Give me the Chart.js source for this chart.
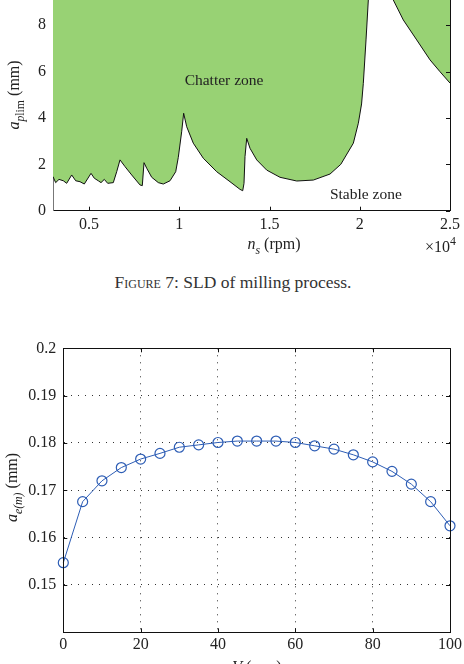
<!DOCTYPE html>
<html><head><meta charset="utf-8">
<script src="https://cdn.jsdelivr.net/npm/chart.js@4.4.1/dist/chart.umd.min.js"></script>
<style>
html,body{margin:0;padding:0;background:#fff;}
body{width:464px;height:664px;overflow:hidden;position:relative;}
.w{position:absolute;left:0;}
#c1w{top:-40px;width:464px;height:300px;}
#c2w{top:320px;width:464px;height:364px;}
#cap{position:absolute;left:0;width:466px;top:273.5px;text-align:center;font-family:"Liberation Serif",serif;font-size:17.5px;line-height:17.5px;color:#333;}
.sc{font-variant:small-caps;}
</style></head><body>
<div class="w" id="c1w"><canvas id="c1" width="464" height="300"></canvas></div>
<div id="cap"><span class="sc">Figure</span> 7: SLD of milling process.</div>
<div class="w" id="c2w"><canvas id="c2" width="464" height="364"></canvas></div>
<script>
// ---- Figure 7: stability lobe diagram ----
const sldRpm = [3000,3148,3333,3573,3758,4036,4258,4496,4735,5106,5289,5511,5660,5843,6031,6342,6530,6713,6990,7361,7821,7949,8043,8193,8470,8836,9113,9484,9800,9944,10130,10240,10409,10775,11330,12072,12809,13363,13513,13585,13640,13735,13917,14289,14843,15580,16505,17426,18351,18950,19643,19920,20100,20197,20346,20474,20520,20600,21500,21650,21859,22413,23156,23893,24447,25000];
const sldA = [1.47,1.21,1.35,1.29,1.18,1.54,1.29,1.25,1.15,1.61,1.40,1.29,1.21,1.35,1.18,1.21,1.68,2.19,1.90,1.54,1.11,1.08,2.07,1.83,1.44,1.21,1.15,1.29,1.68,2.30,3.40,4.20,3.62,2.91,2.26,1.68,1.25,0.92,0.86,1.18,2.33,3.12,2.69,2.19,1.75,1.44,1.28,1.32,1.58,2.00,2.91,3.77,4.60,5.49,7.36,9.08,10.2,14,14,10.3,9.08,8.22,7.36,6.50,5.99,5.50];
const islandRpm = [13470,13480,13590,13470];
const islandA = [3.72,3.24,3.22,3.72];
const sldXTicks = [5000,10000,15000,20000,25000];
const sldYTicks = [0,2,4,6,8,10];
const zoneLabels = ['Chatter zone','Stable zone'];
const zoneRpm = [12477,20335];
const zoneA = [5.42,0.52];

// ---- second chart ----
const vPos = [0,5,10,15,20,25,30,35,40,45,50,55,60,65,70,75,80,85,90,95,100];
const aeM = [0.1547,0.1676,0.1720,0.1748,0.1766,0.1778,0.1791,0.1796,0.1801,0.1804,0.1804,0.1804,0.1801,0.1794,0.1787,0.1775,0.1760,0.1740,0.1713,0.1676,0.1625];
const aeXTicks = [0,20,40,60,80,100];
const aeYTicks = [0.14,0.15,0.16,0.17,0.18,0.19,0.2];

const SERIF = '"Liberation Serif","Times New Roman",serif';
const FS = 16;
const GREEN = 'rgb(152,210,116)';
const BLUE = '#2d5db5';

function rich(ctx, parts, x, y, o) {
  const base = o.size || FS;
  const segs = parts.map(([t, s]) => {
    const sub = s[0] === 's', sup = s[0] === 'p';
    const it = s.endsWith('i');
    const size = (sub || sup) ? base * 0.74 : base;
    const font = (it ? 'italic ' : '') + size + 'px ' + SERIF;
    ctx.font = font;
    return {t, font, w: ctx.measureText(t).width, dy: sub ? base * 0.3 : sup ? -base * 0.42 : 0};
  });
  const total = segs.reduce((a, s) => a + s.w, 0);
  ctx.save();
  ctx.translate(x, y);
  if (o.rot) ctx.rotate(o.rot);
  ctx.fillStyle = o.color || '#222';
  ctx.textBaseline = 'alphabetic';
  let cx = o.align === 'left' ? 0 : -total / 2;
  for (const s of segs) { ctx.font = s.font; ctx.fillText(s.t, cx, s.dy); cx += s.w; }
  ctx.restore();
}
const al = v => Math.round(v) + 0.5;

function tickFilter(list) {
  return s => { s.ticks = list.map(v => ({value: v})); };
}

const plugin1 = {
  id: 'p1',
  afterDraw(chart) {
    const {ctx, chartArea: a, scales: {x, y}} = chart;
    ctx.save();
    ctx.lineWidth = 1;
    ctx.strokeStyle = '#111';
    ctx.beginPath();
    ctx.moveTo(al(a.right), a.top); ctx.lineTo(al(a.right), a.bottom);
    ctx.moveTo(a.left, al(a.top)); ctx.lineTo(a.right, al(a.top));
    sldXTicks.forEach(v => { const p = al(x.getPixelForValue(v)); ctx.moveTo(p, a.bottom); ctx.lineTo(p, a.bottom - 4); });
    sldYTicks.forEach(v => { const p = al(y.getPixelForValue(v)); ctx.moveTo(a.right, p); ctx.lineTo(a.right - 4, p); });
    ctx.stroke();
    ctx.restore();
    zoneLabels.forEach((t, i) => rich(ctx, [[t, 'r']], x.getPixelForValue(zoneRpm[i]), y.getPixelForValue(zoneA[i]), {size: 15.5}));
    rich(ctx, [['n', 'i'], ['s', 'si'], [' (rpm)', 'r']], 274, 289, {});
    rich(ctx, [['\u00d710', 'r'], ['4', 'pr']], 425, 291.5, {align: 'left'});
    rich(ctx, [['a', 'i'], ['p', 'si'], ['lim', 'sr'], [' (mm)', 'r']], 19, 135, {rot: -Math.PI / 2});
  }
};

const plugin2 = {
  id: 'p2',
  afterDraw(chart) {
    const {ctx, chartArea: a, scales: {x, y}} = chart;
    ctx.save();
    ctx.lineWidth = 1;
    ctx.strokeStyle = '#111';
    ctx.beginPath();
    ctx.moveTo(al(a.right), a.top); ctx.lineTo(al(a.right), a.bottom);
    ctx.moveTo(a.left, al(a.top)); ctx.lineTo(a.right, al(a.top));
    ctx.moveTo(al(a.left), a.top); ctx.lineTo(al(a.left), a.bottom);
    ctx.moveTo(a.left, al(a.bottom)); ctx.lineTo(a.right, al(a.bottom));
    aeXTicks.forEach(v => { const p = al(x.getPixelForValue(v)); ctx.moveTo(p, a.bottom); ctx.lineTo(p, a.bottom - 4); ctx.moveTo(p, a.top); ctx.lineTo(p, a.top + 4); });
    aeYTicks.forEach(v => { const p = al(y.getPixelForValue(v)); ctx.moveTo(a.right, p); ctx.lineTo(a.right - 4, p); ctx.moveTo(a.left, p); ctx.lineTo(a.left + 4, p); });
    ctx.stroke();
    ctx.restore();
    rich(ctx, [['a', 'i'], ['e(m)', 'si'], [' (mm)', 'r']], 17, 167.5, {rot: -Math.PI / 2});
    rich(ctx, [['V', 'i'], [' (mm)', 'r']], 257, 352, {});
  }
};

const tickFont = {family: SERIF, size: FS};

new Chart(document.getElementById('c1'), {
  type: 'line',
  data: {datasets: [
    {data: sldRpm.map((v, i) => ({x: v, y: sldA[i]})), fill: 'end', backgroundColor: GREEN, borderColor: '#111', borderWidth: 1, pointRadius: 0, tension: 0},
    {data: islandRpm.map((v, i) => ({x: v, y: islandA[i]})), fill: false, borderColor: '#111', borderWidth: 1.2, pointRadius: 0, tension: 0}
  ]},
  options: {
    responsive: false, animation: false, devicePixelRatio: 1,
    plugins: {legend: {display: false}, tooltip: {enabled: false}},
    layout: {padding: {top: 18.7, right: 14, left: 0, bottom: 0}},
    scales: {
      x: {type: 'linear', min: 3000, max: 25000,
        afterBuildTicks: tickFilter(sldXTicks),
        ticks: {autoSkip: false, maxRotation: 0, callback: v => String(v / 1e4), font: tickFont, color: '#222', padding: 4},
        grid: {display: false, drawTicks: false}, border: {display: true, color: '#111', width: 1},
        afterFit: s => { s.height = 49.3; s.paddingLeft = 0; s.paddingRight = 0; }},
      y: {type: 'linear', min: 0, max: 10,
        afterBuildTicks: tickFilter(sldYTicks),
        ticks: {autoSkip: false, font: tickFont, color: '#222', padding: 7},
        grid: {display: false, drawTicks: false}, border: {display: true, color: '#777', width: 1},
        afterFit: s => { s.width = 53; s.paddingTop = 0; s.paddingBottom = 0; }}
    }
  },
  plugins: [plugin1]
});

new Chart(document.getElementById('c2'), {
  type: 'line',
  data: {datasets: [
    {data: vPos.map((v, i) => ({x: v, y: aeM[i]})), fill: false, borderColor: BLUE, borderWidth: 1, tension: 0,
     pointRadius: 5, pointBorderWidth: 1.2, pointBorderColor: BLUE, pointBackgroundColor: 'rgba(0,0,0,0)', clip: false}
  ]},
  options: {
    responsive: false, animation: false, devicePixelRatio: 1,
    plugins: {legend: {display: false}, tooltip: {enabled: false}},
    layout: {padding: {top: 28.3, right: 14, left: 0, bottom: 0}},
    scales: {
      x: {type: 'linear', min: 0, max: 100,
        afterBuildTicks: tickFilter(aeXTicks),
        ticks: {autoSkip: false, maxRotation: 0, font: tickFont, color: '#222', padding: 2.5},
        grid: {display: true, drawTicks: false, color: '#333', lineWidth: 1},
        border: {display: true, color: '#111', width: 1, dash: [1, 6]},
        afterFit: s => { s.height = 51.7; s.paddingLeft = 0; s.paddingRight = 0; }},
      y: {type: 'linear', min: 0.14, max: 0.2,
        afterBuildTicks: tickFilter(aeYTicks),
        ticks: {autoSkip: false, font: tickFont, color: '#222', padding: 7,
          callback: v => v < 0.145 ? '' : String(+v.toFixed(2))},
        grid: {display: true, drawTicks: false, color: '#333', lineWidth: 1},
        border: {display: true, color: '#111', width: 1, dash: [1, 6]},
        afterFit: s => { s.width = 63.3; s.paddingTop = 0; s.paddingBottom = 0; }}
    }
  },
  plugins: [plugin2]
});
</script>
</body></html>
